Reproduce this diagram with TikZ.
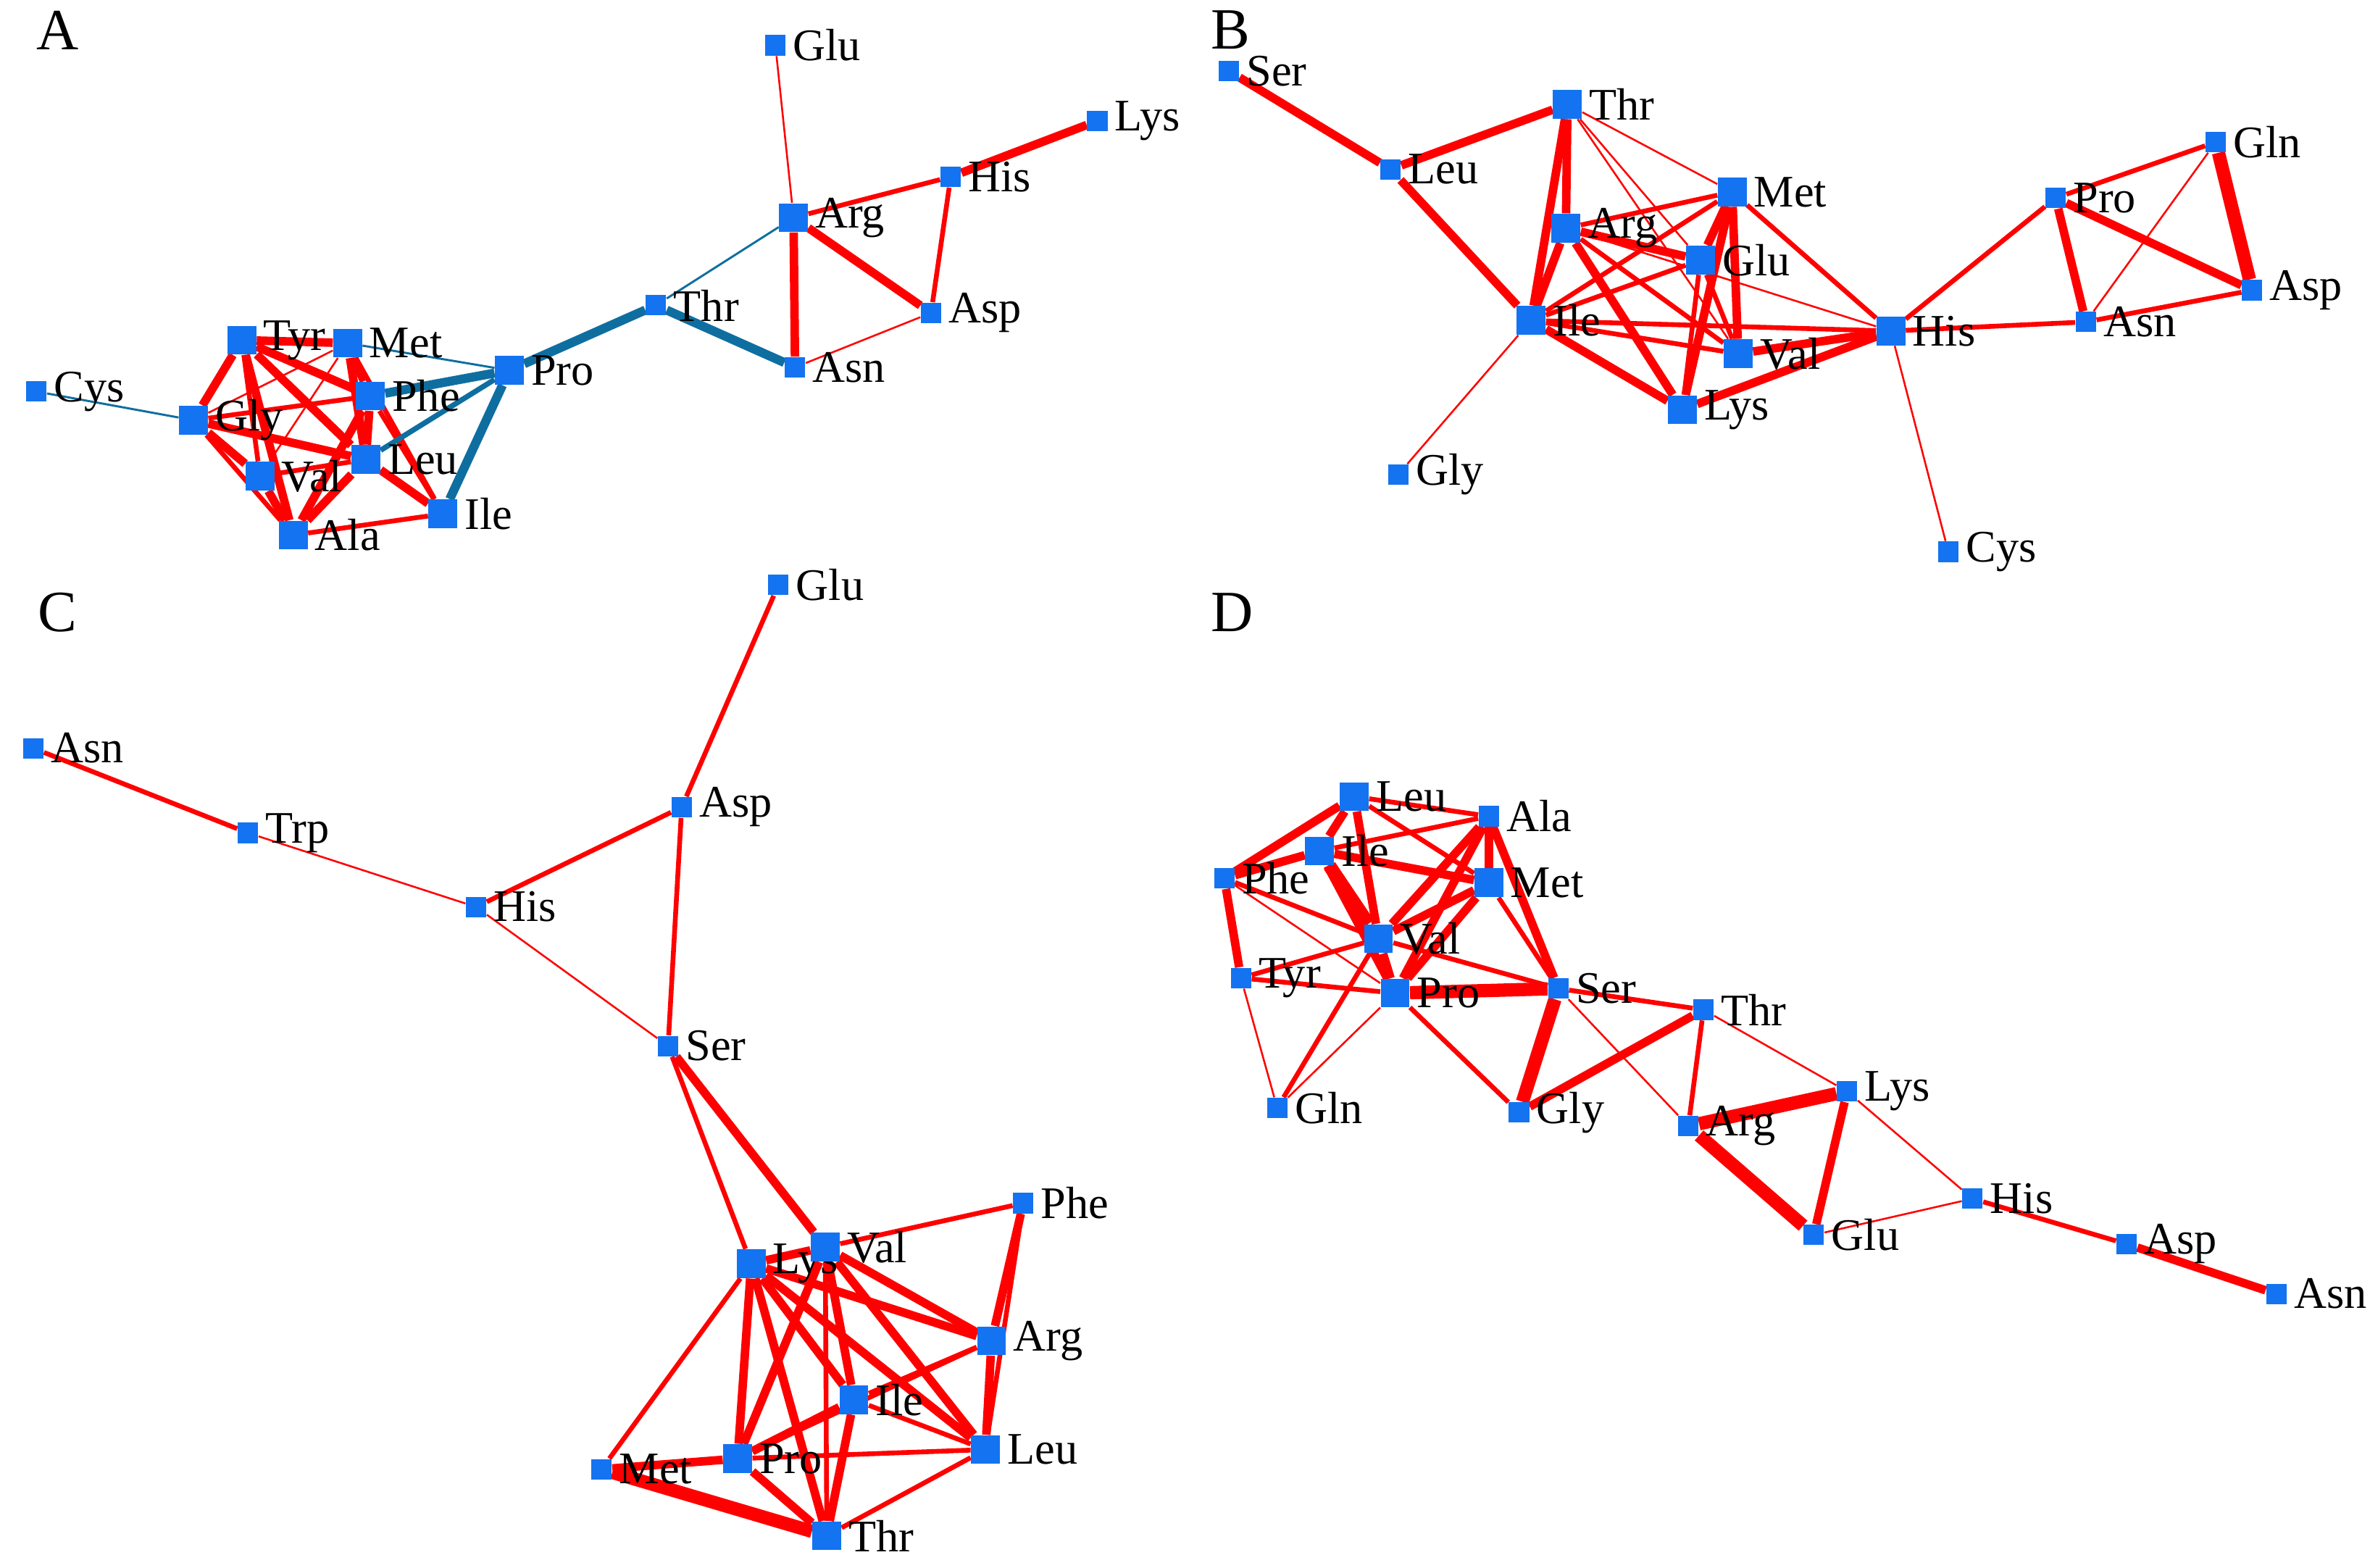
\documentclass[tikz,border=0pt]{standalone}
\usepackage{fontspec}
\setmainfont{Liberation Serif}
\usetikzlibrary{backgrounds}
\definecolor{nblue}{RGB}{20,115,240}
\definecolor{eblue}{RGB}{15,110,160}
\definecolor{ered}{RGB}{255,0,0}
\tikzset{
 sq/.style={rectangle,fill=nblue,inner sep=0pt,minimum size=0.27cm},
 bg/.style={rectangle,fill=nblue,inner sep=0pt,minimum size=0.38cm},
 lbl/.style={font=\fontsize{17}{17}\selectfont,inner sep=1pt,label distance=0.05cm},
 t1/.style={ered,line width=0.7pt},
 t2/.style={ered,line width=1.8pt},
 t3/.style={ered,line width=3.2pt},
 t4/.style={ered,line width=5pt},
 b1/.style={eblue,line width=0.8pt},
 b2/.style={eblue,line width=2pt},
 b3/.style={eblue,line width=3.4pt},
 pl/.style={font=\fontsize{22}{22}\selectfont}
}
\newcommand\nd[5]{\node[#5,label={[lbl]east:#4}] (#1) at (#2,-#3) {};}
\begin{document}
\begin{tikzpicture}[x=0.02cm,y=0.02cm]
\useasboundingbox (0,0) rectangle (1568,-1037);
\node[pl] (pA) at (38,-20) {A};
\node[pl] (pB) at (814,-20) {B};
\node[pl] (pC) at (38,-405) {C};
\node[pl] (pD) at (815,-405) {D};
% A
\nd{aGlu}{513}{30}{Glu}{sq}
\nd{aLys}{726}{80}{Lys}{sq}
\nd{aHis}{629}{117}{His}{sq}
\nd{aArg}{525}{144}{Arg}{bg}
\nd{aAsp}{616}{207}{Asp}{sq}
\nd{aAsn}{526}{243}{Asn}{sq}
\nd{aThr}{434}{202}{Thr}{sq}
\nd{aPro}{337}{245}{Pro}{bg}
\nd{aTyr}{160}{225}{Tyr}{bg}
\nd{aMet}{230}{227}{Met}{bg}
\nd{aPhe}{245}{262}{Phe}{bg}
\nd{aCys}{24}{259}{Cys}{sq}
\nd{aGly}{128}{278}{Gly}{bg}
\nd{aLeu}{242}{304}{Leu}{bg}
\nd{aVal}{172}{315}{Val}{bg}
\nd{aIle}{293}{340}{Ile}{bg}
\nd{aAla}{194}{354}{Ala}{bg}
% B
\nd{bSer}{813}{47}{Ser}{sq}
\nd{bThr}{1037}{69}{Thr}{bg}
\nd{bLeu}{920}{112}{Leu}{sq}
\nd{bMet}{1146}{127}{Met}{bg}
\nd{bArg}{1036}{151}{Arg}{bg}
\nd{bGlu}{1125}{172}{Glu}{bg}
\nd{bIle}{1013}{212}{Ile}{bg}
\nd{bVal}{1150}{234}{Val}{bg}
\nd{bLys}{1113}{271}{Lys}{bg}
\nd{bHis}{1251}{219}{His}{bg}
\nd{bGly}{925}{314}{Gly}{sq}
\nd{bCys}{1289}{365}{Cys}{sq}
\nd{bPro}{1360}{131}{Pro}{sq}
\nd{bGln}{1466}{94}{Gln}{sq}
\nd{bAsp}{1490}{192}{Asp}{sq}
\nd{bAsn}{1380}{213}{Asn}{sq}
% C
\nd{cGlu}{515}{387}{Glu}{sq}
\nd{cAsn}{22}{495}{Asn}{sq}
\nd{cTrp}{164}{551}{Trp}{sq}
\nd{cAsp}{451}{534}{Asp}{sq}
\nd{cHis}{315}{600}{His}{sq}
\nd{cSer}{442}{692}{Ser}{sq}
\nd{cPhe}{677}{796}{Phe}{sq}
\nd{cLys}{497}{836}{Lys}{bg}
\nd{cVal}{546}{825}{Val}{bg}
\nd{cArg}{656}{887}{Arg}{bg}
\nd{cIle}{565}{926}{Ile}{bg}
\nd{cLeu}{652}{959}{Leu}{bg}
\nd{cMet}{398}{972}{Met}{sq}
\nd{cPro}{488}{965}{Pro}{bg}
\nd{cThr}{547}{1016}{Thr}{bg}
% D
\nd{dLeu}{896}{527}{Leu}{bg}
\nd{dAla}{985}{540}{Ala}{sq}
\nd{dIle}{873}{563}{Ile}{bg}
\nd{dMet}{985}{584}{Met}{bg}
\nd{dPhe}{810}{581}{Phe}{sq}
\nd{dVal}{912}{621}{Val}{bg}
\nd{dTyr}{821}{647}{Tyr}{sq}
\nd{dPro}{923}{657}{Pro}{bg}
\nd{dSer}{1031}{654}{Ser}{sq}
\nd{dThr}{1127}{668}{Thr}{sq}
\nd{dGln}{845}{733}{Gln}{sq}
\nd{dGly}{1005}{736}{Gly}{sq}
\nd{dArg}{1117}{745}{Arg}{sq}
\nd{dLys}{1222}{722}{Lys}{sq}
\nd{dHis}{1305}{793}{His}{sq}
\nd{dGlu}{1200}{817}{Glu}{sq}
\nd{dAsp}{1407}{823}{Asp}{sq}
\nd{dAsn}{1506}{856}{Asn}{sq}
\begin{pgfonlayer}{background}
% A edges
\foreach \a/\b in {aGlu/aArg,aAsp/aAsn,aMet/aVal,aGly/aMet} \draw[t1] (\a)--(\b);
\foreach \a/\b in {aHis/aArg,aHis/aAsp,aTyr/aVal,aMet/aIle,aPhe/aGly,aGly/aAla,aVal/aLeu,aAla/aIle,aPhe/aIle} \draw[t2] (\a)--(\b);
\foreach \a/\b in {aLys/aHis,aArg/aAsp,aArg/aAsn,aTyr/aMet,aTyr/aGly,aTyr/aPhe,aTyr/aLeu,aTyr/aAla,aMet/aPhe,aMet/aLeu,aPhe/aLeu,aPhe/aAla,aGly/aVal,aGly/aLeu,aLeu/aAla,aLeu/aIle,aVal/aAla} \draw[t3] (\a)--(\b);
\foreach \a/\b in {aArg/aThr,aPro/aMet,aCys/aGly} \draw[b1] (\a)--(\b);
\foreach \a/\b in {aPro/aLeu} \draw[b2] (\a)--(\b);
\foreach \a/\b in {aThr/aAsn,aThr/aPro,aPro/aPhe,aPro/aIle} \draw[b3] (\a)--(\b);
% B edges
\foreach \a/\b in {bThr/bMet,bThr/bGlu,bThr/bVal,bArg/bHis,bIle/bGly,bHis/bCys,bGln/bAsn} \draw[t1] (\a)--(\b);
\foreach \a/\b in {bArg/bMet,bArg/bVal,bMet/bHis,bMet/bIle,bGlu/bVal,bGlu/bLys,bGlu/bIle,bIle/bVal,bIle/bHis,bHis/bPro,bHis/bAsn,bPro/bGln,bAsn/bAsp} \draw[t2] (\a)--(\b);
\foreach \a/\b in {bSer/bLeu,bLeu/bThr,bLeu/bIle,bThr/bArg,bThr/bIle,bArg/bGlu,bArg/bIle,bArg/bLys,bMet/bGlu,bMet/bVal,bMet/bLys,bIle/bLys,bVal/bHis,bLys/bHis,bPro/bAsn,bPro/bAsp} \draw[t3] (\a)--(\b);
\draw[t4] (bGln)--(bAsp);
% C edges
\foreach \a/\b in {cTrp/cHis,cHis/cSer} \draw[t1] (\a)--(\b);
\foreach \a/\b in {cGlu/cAsp,cAsn/cTrp,cHis/cAsp,cAsp/cSer,cSer/cLys,cVal/cPhe,cPhe/cLeu,cLys/cMet,cVal/cThr,cArg/cIle,cArg/cPro,cIle/cLeu,cLeu/cPro,cLeu/cThr} \draw[t2] (\a)--(\b);
\foreach \a/\b in {cSer/cVal,cLys/cVal,cPhe/cArg,cLys/cArg,cLys/cIle,cLys/cLeu,cLys/cPro,cLys/cThr,cVal/cArg,cVal/cIle,cVal/cLeu,cVal/cPro,cArg/cLeu,cIle/cPro,cIle/cThr,cMet/cPro,cPro/cThr} \draw[t3] (\a)--(\b);
\draw[t4] (cMet)--(cThr);
% D edges
\foreach \a/\b in {dPhe/dPro,dTyr/dGln,dPro/dGln,dSer/dArg,dThr/dLys,dLys/dHis,dGlu/dHis} \draw[t1] (\a)--(\b);
\foreach \a/\b in {dLeu/dAla,dLeu/dMet,dAla/dIle,dPhe/dVal,dMet/dSer,dVal/dTyr,dVal/dSer,dVal/dGln,dTyr/dPro,dPro/dGly,dSer/dThr,dThr/dArg,dHis/dAsp} \draw[t2] (\a)--(\b);
\foreach \a/\b in {dLeu/dIle,dLeu/dPhe,dLeu/dVal,dAla/dMet,dAla/dVal,dAla/dPro,dAla/dSer,dIle/dPhe,dIle/dMet,dIle/dPro,dPhe/dTyr,dMet/dVal,dMet/dPro,dVal/dPro,dThr/dGly,dLys/dGlu,dAsp/dAsn} \draw[t3] (\a)--(\b);
\foreach \a/\b in {dIle/dVal,dPro/dSer,dSer/dGly,dArg/dLys,dArg/dGlu} \draw[t4] (\a)--(\b);
\end{pgfonlayer}
\end{tikzpicture}
\end{document}
